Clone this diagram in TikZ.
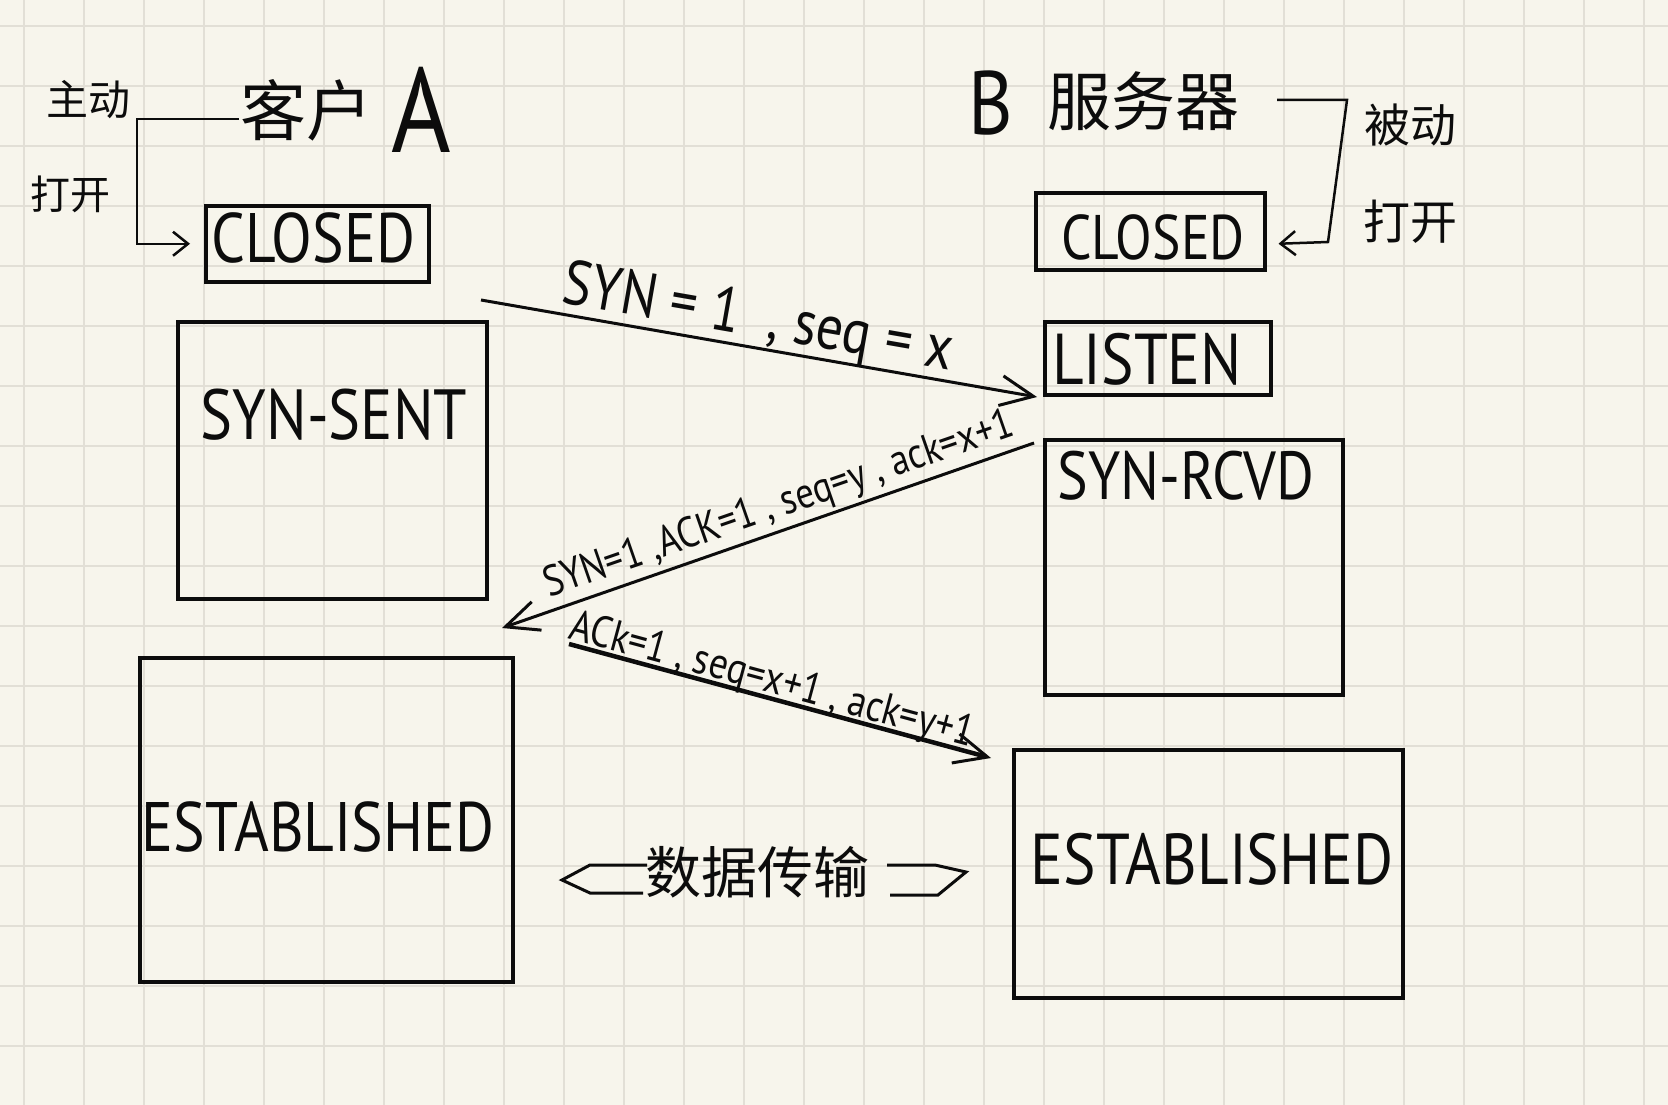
\documentclass[tikz,border=0pt]{standalone}
\usepackage{fontspec}
\setmainfont{PT Sans}
\newfontfamily\hand[FakeStretch=0.85]{PT Sans}
\newfontfamily\cjk{Noto Sans CJK SC}
\newcommand{\hsz}[1]{\hand\fontsize{#1}{#1}\selectfont}
\newcommand{\csz}[1]{\cjk\fontsize{#1}{#1}\selectfont}
\usetikzlibrary{arrows.meta,calc}
\definecolor{paper}{RGB}{247,245,236}
\definecolor{gridc}{RGB}{226,223,214}
\definecolor{ink}{RGB}{12,12,12}
\begin{document}
\begin{tikzpicture}[x=1pt,y=-1pt,
  box/.style={draw=ink, line width=3.5pt, inner sep=0pt, anchor=north west},
  txt/.style={inner sep=0pt, text=ink},
  conn/.style={draw=ink, line width=3pt, -{Straight Barb[length=33pt,width=30pt,line width=3pt]}},
  brk/.style={draw=ink, line width=2.5pt, -{Straight Barb[length=15pt,width=24pt,line width=2.5pt]}},
  lab/.style={sloped, inner sep=0pt, text depth=0pt, text=ink},
  gl/.style={gridc, line width=2.5pt}
]
\useasboundingbox (0,0) rectangle (1668,1105);
\fill[paper] (0,0) rectangle (1668,1105);
\foreach \i in {0,...,27} \draw[gl] ({24+60*\i},0) -- ({24+60*\i},1105);
\foreach \j in {0,...,17} \draw[gl] (0,{26+60*\j}) -- (1668,{26+60*\j});

% boxes
\node[box, minimum width=223pt, minimum height=76pt] (closedA) at (204,204) {};
\node[box, minimum width=229pt, minimum height=77pt] (closedB) at (1034,191) {};
\node[box, minimum width=309pt, minimum height=277pt] (sent) at (176,320) {};
\node[box, minimum width=226pt, minimum height=73pt] (listen) at (1043,320) {};
\node[box, minimum width=298pt, minimum height=255pt] (rcvd) at (1043,438) {};
\node[box, minimum width=373pt, minimum height=324pt] (estA) at (138,656) {};
\node[box, minimum width=389pt, minimum height=248pt] (estB) at (1012,748) {};

% box texts
\node[txt, font=\hsz{70}] (tclosedA) at (313,238) {CLOSED};
\node[txt, font=\hsz{63}] (tclosedB) at (1153,237) {CLOSED};
\node[txt, font=\hsz{71}] (tsent) at (334,415) {SYN-SENT};
\node[txt, font=\hsz{72}] (tlisten) at (1147,359) {LISTEN};
\node[txt, font=\hsz{68}] (trcvd) at (1186,476) {SYN-RCVD};
\node[txt, font=\hsz{70}] (testA) at (318,827) {ESTABLISHED};
\node[txt, font=\hsz{72}] (testB) at (1212,859) {ESTABLISHED};

% titles
\node[txt, font=\csz{66}] (kh) at (306,110) {客户};
\node[txt, font=\hsz{120}] (ka) at (421,110) {A};
\node[txt, font=\hsz{90}] (sb) at (991,103) {B};
\node[txt, font=\csz{64}] (sf) at (1143,101) {服务器};
\node[txt, font=\csz{42}] (zd) at (88,100) {主动};
\node[txt, font=\csz{40}] (dkA) at (70,194) {打开};
\node[txt, font=\csz{46}] (bd) at (1410,125) {被动};
\node[txt, font=\csz{47}] (dkB) at (1410,222) {打开};

% brackets
\coordinate (bA) at (239,119);
\draw[brk, shorten >=14pt] (bA) -- (137,119) |- (closedA.west);
\coordinate (bB) at (1277,100);
\coordinate (bBend) at ($(closedB.east)+(12,12.5)$);
\draw[brk] (bB) -- (1347,100) -- (1328,242) -- (bBend);

% handshake arrows
\coordinate (s1) at (481,300);
\coordinate (e1) at (1037,397);
\draw[conn] (s1) -- node[lab, pos=0.49, above=10pt, font=\hsz{63}] {SYN = 1 \ , seq = x} (e1);
\coordinate (s2) at (1034,443);
\coordinate (e2) at (502,628);
\draw[conn] (s2) -- node[lab, pos=0.464, above=12pt, font=\hsz{43}] {SYN=1 ,ACK=1 , seq=y , ack=x+1} (e2);
\coordinate (s3) at (569,644);
\coordinate (e3) at (991,758);
\draw[conn, line width=4.5pt] (s3) -- node[lab, pos=0.47, above=3pt, font=\hsz{44}] {ACk=1 , seq=x+1 , ack=y+1} (e3);

% data transfer
\node[txt, font=\csz{56}] (dt) at (757,872) {数据传输};
\draw[ink, line width=3pt, line join=miter] (647,865) -- (590,865) -- (562,880) -- (590,893) -- (643,893);
\draw[ink, line width=3pt, line join=miter] (887,865) -- (935,865) -- (966,872) -- (938,895) -- (890,895);
\end{tikzpicture}
\end{document}
